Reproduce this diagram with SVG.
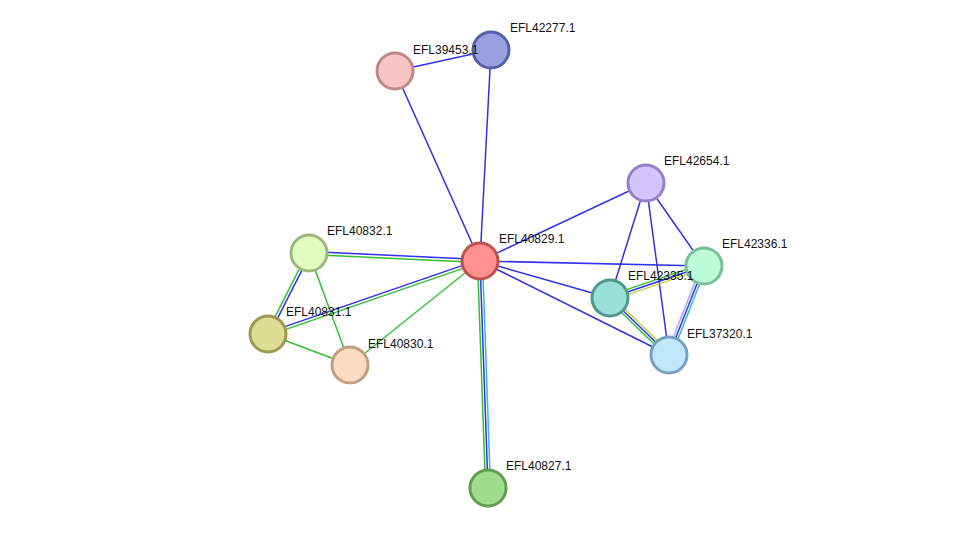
<svg xmlns="http://www.w3.org/2000/svg" width="976" height="533" viewBox="0 0 976 533">
<style>
line{stroke-width:1.5}
.b{stroke:#3030ee}.g{stroke:#33c033}.y{stroke:#c8d040}.c{stroke:#33b8e0}.l{stroke:#a8a8f8}
circle{stroke-width:3}
text{font-family:"Liberation Sans",Arial,sans-serif;font-size:12px;fill:#111}
</style>
<rect width="976" height="533" fill="#fff"/>
<g id="connectors">
<line class="b" x1="395" y1="71" x2="491" y2="50"/>
<line class="b" x1="395" y1="71" x2="480" y2="261"/>
<line class="b" x1="491" y1="50" x2="480" y2="261"/>
<line class="b" x1="480" y1="261" x2="646" y2="183"/>
<line class="b" x1="480" y1="261" x2="704" y2="266"/>
<line class="b" x1="480" y1="261" x2="610" y2="298"/>
<line class="b" x1="480" y1="261" x2="669" y2="355"/>
<line class="b" x1="646" y1="183" x2="610" y2="298"/>
<line class="b" x1="646" y1="183" x2="669" y2="355"/>
<line class="b" x1="646" y1="183" x2="704" y2="266"/>
<line class="g" x1="609.2" y1="295.6" x2="703.2" y2="263.6"/>
<line class="b" x1="610" y1="298" x2="704" y2="266"/>
<line class="y" x1="610.8" y1="300.4" x2="704.8" y2="268.4"/>
<line class="y" x1="611.7" y1="296.2" x2="670.7" y2="353.2"/>
<line class="b" x1="610" y1="298" x2="669" y2="355"/>
<line class="g" x1="608.3" y1="299.8" x2="667.3" y2="356.8"/>
<line class="l" x1="701.7" y1="265.1" x2="666.7" y2="354.1"/>
<line class="b" x1="704" y1="266" x2="669" y2="355"/>
<line class="c" x1="706.3" y1="266.9" x2="671.3" y2="355.9"/>
<line class="b" x1="480" y1="259.5" x2="309" y2="251.5"/>
<line class="g" x1="480" y1="262.5" x2="309" y2="254.5"/>
<line class="b" x1="479.5" y1="259.6" x2="267.5" y2="332.6"/>
<line class="g" x1="480.5" y1="262.4" x2="268.5" y2="335.4"/>
<line class="g" x1="480" y1="261" x2="350" y2="365"/>
<line class="g" x1="307.7" y1="252.3" x2="266.7" y2="333.3"/>
<line class="b" x1="310.3" y1="253.7" x2="269.3" y2="334.7"/>
<line class="g" x1="309" y1="253" x2="350" y2="365"/>
<line class="g" x1="268" y1="334" x2="350" y2="365"/>
<line class="g" x1="477.5" y1="261" x2="485.5" y2="488"/>
<line class="b" x1="480" y1="261" x2="488" y2="488"/>
<line class="c" x1="482.5" y1="261" x2="490.5" y2="488"/>
</g>
<g id="n40829"><circle cx="480" cy="261" r="18" fill="#fe9090" stroke="#c05050"/><text x="499" y="243">EFL40829.1</text></g>
<g id="n42277"><circle cx="491" cy="50" r="18" fill="#98a0e0" stroke="#5560a8"/><text x="510" y="32">EFL42277.1</text></g>
<g id="n39453"><circle cx="395" cy="71" r="18" fill="#f8c4c4" stroke="#c08888"/><text x="413" y="54">EFL39453.1</text></g>
<g id="n42654"><circle cx="646" cy="183" r="18" fill="#d4c4fc" stroke="#9880c8"/><text x="664" y="165">EFL42654.1</text></g>
<g id="n42336"><circle cx="704" cy="266" r="18" fill="#bcfcd8" stroke="#78c09a"/><text x="722" y="248">EFL42336.1</text></g>
<g id="n42335"><circle cx="610" cy="298" r="18" fill="#98e0d8" stroke="#50988c"/><text x="628" y="280">EFL42335.1</text></g>
<g id="n37320"><circle cx="669" cy="355" r="18" fill="#c0e8fc" stroke="#78a0c0"/><text x="687" y="338">EFL37320.1</text></g>
<g id="n40832"><circle cx="309" cy="253" r="18" fill="#e0fcc0" stroke="#a0b880"/><text x="327" y="235">EFL40832.1</text></g>
<g id="n40831"><circle cx="268" cy="334" r="18" fill="#dcdc94" stroke="#9c9850"/><text x="286" y="316">EFL40831.1</text></g>
<g id="n40830"><circle cx="350" cy="365" r="18" fill="#fcdcc0" stroke="#c0a080"/><text x="368" y="348">EFL40830.1</text></g>
<g id="n40827"><circle cx="488" cy="488" r="18" fill="#a0dc90" stroke="#60a050"/><text x="506" y="470">EFL40827.1</text></g>
</svg>
